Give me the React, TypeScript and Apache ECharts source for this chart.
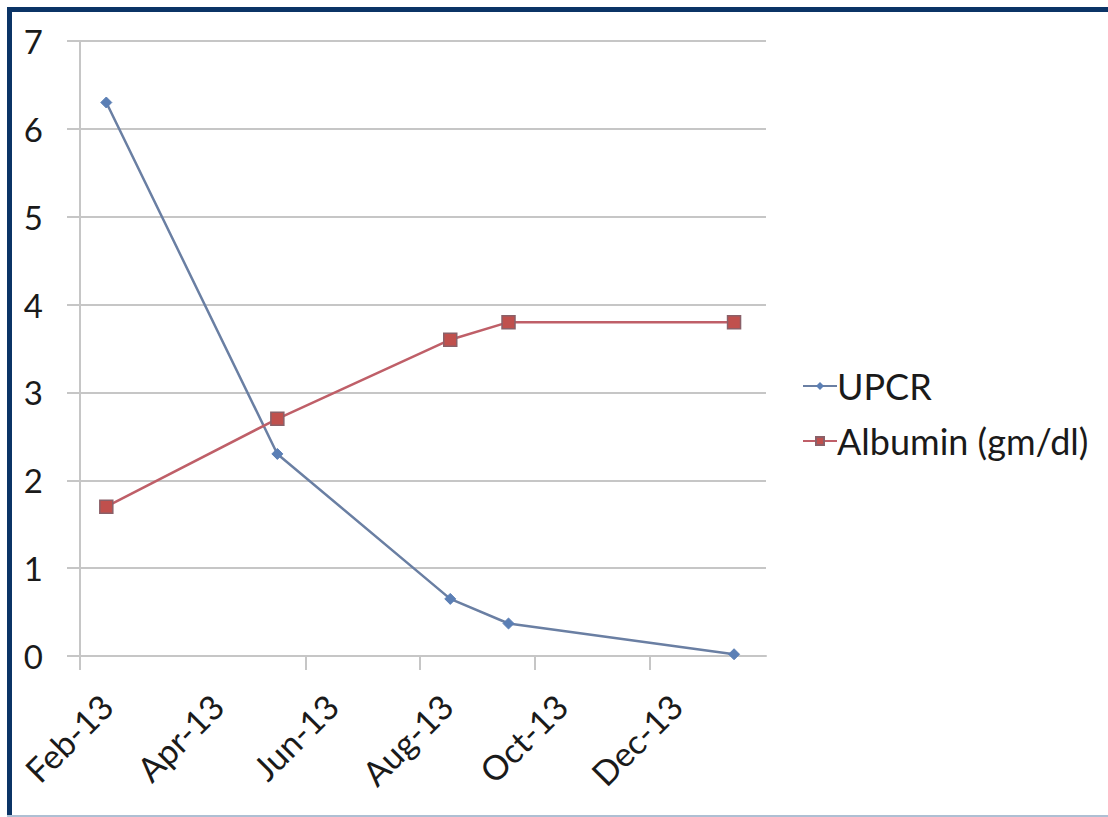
import React, { useEffect, useRef } from "react";
import * as echarts from "echarts";

// ---- data ----
const seriesNames = ["UPCR", "Albumin (gm/dl)"];
const sampleDates = ["2013-02-15", "2013-05-17", "2013-08-17", "2013-09-17", "2014-01-15"];
const upcrValues = [6.3, 2.3, 0.65, 0.37, 0.02];
const albuminValues = [1.7, 2.7, 3.6, 3.8, 3.8];
const tickDates = ["2013-02-01", "2013-04-01", "2013-06-01", "2013-08-01", "2013-10-01", "2013-12-01"];
const tickLabels = ["Feb-13", "Apr-13", "Jun-13", "Aug-13", "Oct-13", "Dec-13"];
const axisEndDate = "2014-02-01";
const yTicks = [0, 1, 2, 3, 4, 5, 6, 7];

// ---- helpers ----
const ORIGIN = Date.UTC(2013, 1, 1);
const dayOf = (s: string) => {
  const [y, m, d] = s.split("-").map(Number);
  return (Date.UTC(y, m - 1, d) - ORIGIN) / 86400000;
};
const tickDays = tickDates.map(dayOf);
const LABEL_SHIFT = 14; // days, visual offset of rotated labels
const labelDays = tickDays.map((d) => d + LABEL_SHIFT);
const tickMarkDays = tickDays.filter((_, i) => i !== 1);

const FONT = "Lato, 'Open Sans', sans-serif";
const GRID_COLOR = "#c6c6c6";

export default function App() {
  const ref = useRef<HTMLDivElement>(null);
  useEffect(() => {
    if (!ref.current) return;
    const chart = echarts.init(ref.current, undefined, { renderer: "svg" });
    const xs = sampleDates.map(dayOf);
    chart.setOption({
      animation: false,
      backgroundColor: "#ffffff",
      textStyle: { fontFamily: FONT },
      grid: { left: 80, right: 342, top: 41, bottom: 161, containLabel: false },
      xAxis: {
        type: "value",
        min: 0,
        max: dayOf(axisEndDate),
        axisLine: { show: true, lineStyle: { color: GRID_COLOR, width: 2 } },
        axisTick: {
          show: true,
          length: 14,
          lineStyle: { color: GRID_COLOR, width: 2 },
          customValues: tickMarkDays,
        },
        splitLine: { show: false },
        axisLabel: {
          customValues: labelDays,
          rotate: 45,
          margin: 44,
          fontSize: 34,
          color: "#1a1a1a",
          fontFamily: FONT,
          formatter: (v: number) => {
            const i = labelDays.findIndex((d) => Math.abs(d - v) < 0.5);
            return i >= 0 ? tickLabels[i] : "";
          },
        },
      },
      yAxis: {
        type: "value",
        min: yTicks[0],
        max: yTicks[yTicks.length - 1],
        interval: 1,
        axisLine: { show: true, lineStyle: { color: GRID_COLOR, width: 2 } },
        axisTick: { show: true, length: 13, lineStyle: { color: GRID_COLOR, width: 2 } },
        splitLine: { show: true, lineStyle: { color: GRID_COLOR, width: 2 } },
        axisLabel: { margin: 37, fontSize: 33, color: "#1a1a1a", fontFamily: FONT },
      },
      legend: {
        orient: "vertical",
        left: 797,
        top: 363,
        itemWidth: 34,
        itemHeight: 10,
        itemGap: 19,
        textStyle: { fontSize: 36, color: "#1a1a1a", fontFamily: FONT, padding: [0, 0, 0, -5] },
        data: seriesNames,
      },
      series: [
        {
          name: seriesNames[0],
          type: "line",
          data: xs.map((x, i) => [x, upcrValues[i]]),
          symbol: "diamond",
          symbolSize: 11,
          lineStyle: { color: "#6a7fa3", width: 2.5 },
          itemStyle: { color: "#5b7fb5", borderColor: "#5b7fb5" },
        },
        {
          name: seriesNames[1],
          type: "line",
          data: xs.map((x, i) => [x, albuminValues[i]]),
          symbol: "rect",
          symbolSize: 13,
          lineStyle: { color: "#bf5f68", width: 2.5 },
          itemStyle: { color: "#c0504d", borderColor: "#8a6068", borderWidth: 1.5 },
        },
      ],
      graphic: [
        { type: "rect", left: 7, top: 7, shape: { width: 5, height: 810 }, style: { fill: "#0b3466" } },
        { type: "rect", left: 7, top: 7, shape: { width: 1101, height: 5 }, style: { fill: "#0b3466" } },
        { type: "rect", left: 7, top: 815, shape: { width: 1101, height: 2 }, style: { fill: "#aebfd3" } },
      ],
    });
    return () => chart.dispose();
  }, []);
  return (
    <div
      ref={ref}
      style={{ position: "absolute", left: 0, top: 0, width: 1108, height: 817 }}
    />
  );
}
